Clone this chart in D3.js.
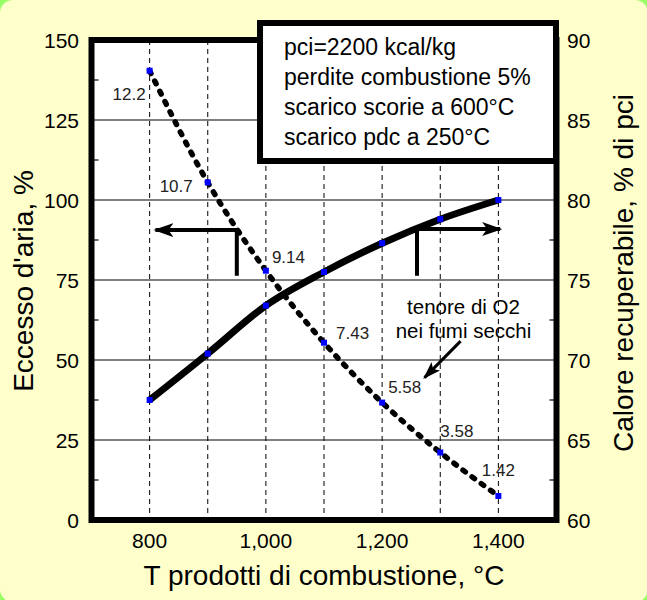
<!DOCTYPE html>
<html>
<head>
<meta charset="utf-8">
<script src="https://cdn.jsdelivr.net/npm/d3@7"></script>
<style>
  body { margin: 0; background: #99ff66; }
  svg { display: block; font-family: "Liberation Sans", Arial, sans-serif; }
</style>
</head>
<body>
<svg width="647" height="600"></svg>
<script>
// temperature of combustion products, °C
var temps = [800, 900, 1000, 1100, 1200, 1300, 1400];
// excess air, % (left axis, dotted)
var excessAir = [140.4, 105.5, 77.9, 55.4, 36.7, 21.1, 7.5];
// O2 content in dry fumes, % (labels on dotted line)
var o2Labels = ["12.2", "10.7", "9.14", "7.43", "5.58", "3.58", "1.42"];
// recoverable heat, % of pci (right axis, solid)
var heatRec = [67.5, 70.4, 73.4, 75.5, 77.3, 78.8, 80.0];

var xTicks = [800, 1000, 1200, 1400];
var xGrid = [800, 900, 1000, 1100, 1200, 1300, 1400];
var leftTicks = [0, 25, 50, 75, 100, 125, 150];
var leftMinor = [12.5, 37.5, 62.5, 87.5, 112.5, 137.5];
var rightTicks = [60, 65, 70, 75, 80, 85, 90];
var rightMinor = [62.5, 67.5, 72.5, 77.5, 82.5, 87.5];
var boxLines = ["pci=2200 kcal/kg", "perdite combustione 5%", "scarico scorie a 600°C", "scarico pdc a 250°C"];

var svg = d3.select("svg");

// yellow rounded background
svg.append("rect").attr("x", 0).attr("y", 0).attr("width", 648).attr("height", 602)
  .attr("rx", 13).attr("fill", "#ffffcc");

var x = d3.scaleLinear().domain([700, 1500]).range([91.5, 556.5]),
    yL = d3.scaleLinear().domain([0, 150]).range([520, 40]),
    yR = d3.scaleLinear().domain([60, 90]).range([520, 40]);

// plot area
svg.append("rect").attr("x", x(700)).attr("y", yL(150))
  .attr("width", x(1500) - x(700)).attr("height", yL(0) - yL(150))
  .attr("fill", "#fff");

// gridlines
svg.selectAll(".hgrid").data(leftTicks.slice(1, -1)).enter().append("line")
  .attr("x1", x(700)).attr("x2", x(1500))
  .attr("y1", function(d) { return yL(d); }).attr("y2", function(d) { return yL(d); })
  .attr("stroke", "#000").attr("stroke-width", 1.2);
svg.selectAll(".vgrid").data(xGrid).enter().append("line")
  .attr("x1", function(d) { return x(d); }).attr("x2", function(d) { return x(d); })
  .attr("y1", yL(150)).attr("y2", yL(0))
  .attr("stroke", "#000").attr("stroke-width", 1).attr("stroke-dasharray", "5,4");

// minor inner ticks
svg.selectAll(".lminor").data(leftMinor).enter().append("line")
  .attr("x1", x(700)).attr("x2", x(700) + 7)
  .attr("y1", function(d) { return yL(d); }).attr("y2", function(d) { return yL(d); })
  .attr("stroke", "#000").attr("stroke-width", 1.2);
svg.selectAll(".rminor").data(rightMinor).enter().append("line")
  .attr("x1", x(1500) - 7).attr("x2", x(1500))
  .attr("y1", function(d) { return yR(d); }).attr("y2", function(d) { return yR(d); })
  .attr("stroke", "#000").attr("stroke-width", 1.2);

var curveL = d3.line().curve(d3.curveMonotoneX)
  .x(function(d) { return x(d[0]); }).y(function(d) { return yL(d[1]); });
var curveR = d3.line().curve(d3.curveMonotoneX)
  .x(function(d) { return x(d[0]); }).y(function(d) { return yR(d[1]); });

var airPts = d3.zip(temps, excessAir),
    heatPts = d3.zip(temps, heatRec);

svg.append("path").attr("d", curveR(heatPts))
  .attr("fill", "none").attr("stroke", "#000").attr("stroke-width", 7);
svg.append("path").attr("d", curveL(airPts))
  .attr("fill", "none").attr("stroke", "#000").attr("stroke-width", 5.5)
  .attr("stroke-dasharray", "3,8.4").attr("stroke-linecap", "round");

// markers
svg.selectAll(".mA").data(airPts).enter().append("rect")
  .attr("x", function(d) { return x(d[0]) - 3; }).attr("y", function(d) { return yL(d[1]) - 3; })
  .attr("width", 6).attr("height", 6).attr("fill", "#0000ff");
svg.selectAll(".mH").data(heatPts).enter().append("rect")
  .attr("x", function(d) { return x(d[0]) - 3; }).attr("y", function(d) { return yR(d[1]) - 3; })
  .attr("width", 6).attr("height", 6).attr("fill", "#0000ff");

// O2 labels, offsets in px from each point
var lblOff = [[-4, 29, "end"], [-15, 10, "end"], [6, -8, "start"], [12, -4, "start"],
              [6, -10, "start"], [0, -15, "start"], [0, -20, "middle"]];
svg.selectAll(".o2").data(airPts).enter().append("text")
  .attr("x", function(d, i) { return x(d[0]) + lblOff[i][0]; })
  .attr("y", function(d, i) { return yL(d[1]) + lblOff[i][1]; })
  .attr("text-anchor", function(d, i) { return lblOff[i][2]; })
  .attr("font-size", 17).attr("fill", "#222")
  .text(function(d, i) { return o2Labels[i]; });

// arrows
var defs = svg.append("defs");
defs.append("marker").attr("id", "ah").attr("viewBox", "0 0 20 16")
  .attr("refX", 18).attr("refY", 8).attr("markerWidth", 20).attr("markerHeight", 16)
  .attr("markerUnits", "userSpaceOnUse").attr("orient", "auto")
  .append("path").attr("d", "M0,1 L20,8 L0,15 L5,8 Z").attr("fill", "#000");
defs.append("marker").attr("id", "ah2").attr("viewBox", "0 0 18 14")
  .attr("refX", 16).attr("refY", 7).attr("markerWidth", 18).attr("markerHeight", 14)
  .attr("markerUnits", "userSpaceOnUse").attr("orient", "auto")
  .append("path").attr("d", "M0,1 L18,7 L0,13 L4,7 Z").attr("fill", "#000");

function arrow(pts, yS, w, m) {
  svg.append("path")
    .attr("d", d3.line().x(function(d) { return x(d[0]); }).y(function(d) { return yS(d[1]); })(pts))
    .attr("fill", "none").attr("stroke", "#000").attr("stroke-width", w)
    .attr("marker-end", "url(#" + m + ")");
}
arrow([[950, 76.3], [950, 90.6], [810, 90.6]], yL, 4, "ah");
arrow([[1260, 76.3], [1260, 90.9], [1403, 90.9]], yL, 4, "ah");
arrow([[1335, 55.9], [1273, 44.5]], yL, 3, "ah2");

svg.append("text").attr("x", x(1340)).attr("y", yL(64.5)).attr("text-anchor", "middle")
  .attr("font-size", 20.5).text("tenore di O2");
svg.append("text").attr("x", x(1340)).attr("y", yL(57)).attr("text-anchor", "middle")
  .attr("font-size", 20.5).text("nei fumi secchi");

// frame
svg.append("rect").attr("x", x(700)).attr("y", yL(150))
  .attr("width", x(1500) - x(700)).attr("height", yL(0) - yL(150))
  .attr("fill", "none").attr("stroke", "#000").attr("stroke-width", 6);

// info box
svg.append("rect").attr("x", 260).attr("y", 23).attr("width", 296).attr("height", 138)
  .attr("fill", "#fff").attr("stroke", "#000").attr("stroke-width", 6);
svg.selectAll(".box").data(boxLines).enter().append("text")
  .attr("x", 284).attr("y", function(d, i) { return 55 + i * 30; })
  .attr("font-size", 23).text(function(d) { return d; });

// tick labels
svg.selectAll(".lt").data(leftTicks).enter().append("text")
  .attr("x", 79).attr("y", function(d) { return yL(d); }).attr("dy", "0.36em")
  .attr("text-anchor", "end").attr("font-size", 21).text(function(d) { return d; });
svg.selectAll(".rt").data(rightTicks).enter().append("text")
  .attr("x", 567).attr("y", function(d) { return yR(d); }).attr("dy", "0.36em")
  .attr("font-size", 21).text(function(d) { return d; });
svg.selectAll(".xt").data(xTicks).enter().append("text")
  .attr("x", function(d) { return x(d); }).attr("y", 548)
  .attr("text-anchor", "middle").attr("font-size", 21).text(d3.format(","));

// axis titles
svg.append("text").attr("x", 324).attr("y", 585).attr("text-anchor", "middle")
  .attr("font-size", 28).text("T prodotti di combustione, °C");
svg.append("text").attr("transform", "translate(33,281) rotate(-90)")
  .attr("text-anchor", "middle").attr("font-size", 28).text("Eccesso d'aria, %");
svg.append("text").attr("transform", "translate(633,273) rotate(-90)")
  .attr("text-anchor", "middle").attr("font-size", 28).text("Calore recuperabile, % di pci");
</script>
</body>
</html>
